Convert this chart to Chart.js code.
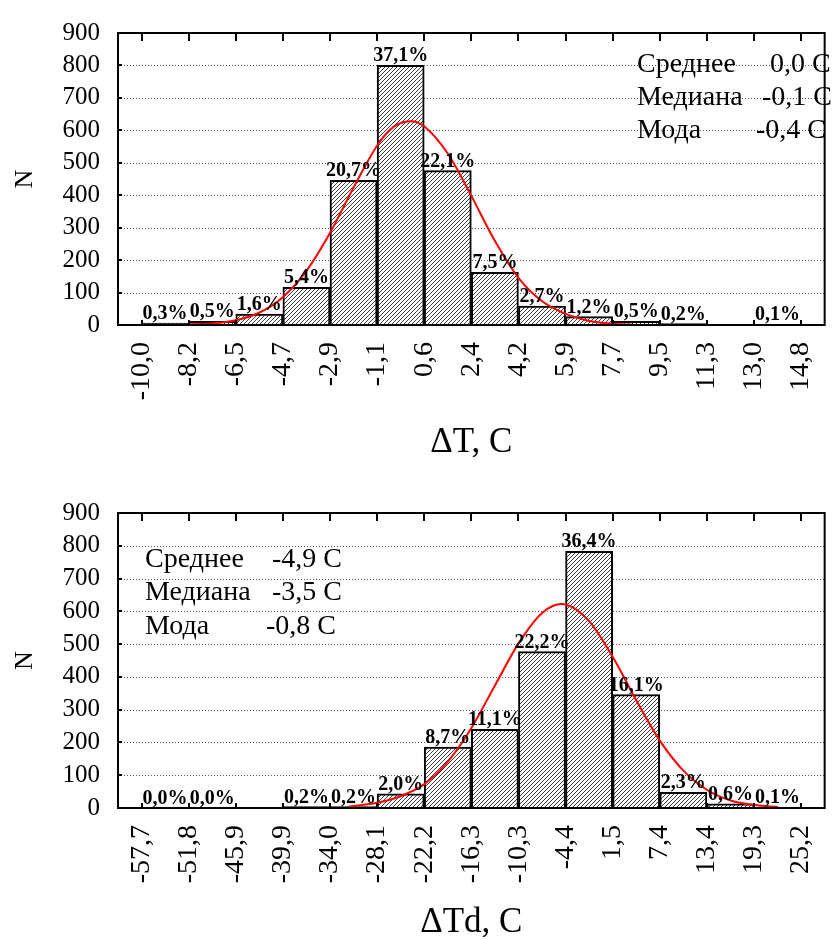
<!DOCTYPE html>
<html><head><meta charset="utf-8">
<script src="https://cdn.jsdelivr.net/npm/chart.js@4.4.1/dist/chart.umd.min.js"></script>
<style>
html,body{margin:0;padding:0;background:#fff;overflow:hidden;width:834px;height:940px;}
.wrap{position:absolute;left:0;width:852px;}
#w1{top:0;height:470px;}
#w2{top:460px;height:480px;}
canvas{display:block;}
</style></head><body>
<div class="wrap" id="w1"><canvas id="c1" width="852" height="470"></canvas></div>
<div class="wrap" id="w2"><canvas id="c2" width="852" height="480"></canvas></div>
<script>
// ---------- Top histogram: ΔT ----------
const dtEdgeLabels = ['-10,0','-8,2','-6,5','-4,7','-2,9','-1,1','0,6','2,4','4,2','5,9','7,7','9,5','11,3','13,0','14,8'];
const dtCounts = [6, 11, 34, 116, 446, 800, 476, 162, 58, 26, 11, 4, 0, 2];
const dtPercents = ['0,3%','0,5%','1,6%','5,4%','20,7%','37,1%','22,1%','7,5%','2,7%','1,2%','0,5%','0,2%','','0,1%'];
const dtCurveX = [-8.2, -7.35, -6.5, -5.6, -4.7, -3.8, -2.9, -2.0, -1.1, -0.5, 0.15, 0.6, 1.5, 2.4, 3.3, 4.2, 5.05, 5.9, 6.8, 7.7, 8.6];
const dtCurveY = [2, 5, 14, 37, 85, 167, 286, 428, 558, 612, 628, 614, 530, 398, 257, 142, 74, 36, 13, 4, 1];
const dtStatNames = ['Среднее','Медиана','Мода'];
const dtStatValues = ['0,0 С','-0,1 С','-0,4 С'];

// ---------- Bottom histogram: ΔTd ----------
const dtdEdgeLabels = ['-57,7','-51,8','-45,9','-39,9','-34,0','-28,1','-22,2','-16,3','-10,3','-4,4','1,5','7,4','13,4','19,3','25,2'];
const dtdCounts = [1, 1, 0, 4, 4, 43, 186, 240, 477, 783, 346, 48, 13, 2];
const dtdPercents = ['0,0%','0,0%','','0,2%','0,2%','2,0%','8,7%','11,1%','22,2%','36,4%','16,1%','2,3%','0,6%','0,1%'];
const dtdCurveX = [-31.7, -28.1, -25.15, -22.2, -19.25, -16.3, -13.3, -10.3, -7.35, -4.9, -4.4, -1.45, 1.5, 4.45, 7.4, 10.4, 13.4, 16.35, 19.3, 22.3];
const dtdCurveY = [4, 16, 36, 72, 140, 242, 373, 503, 595, 622, 621, 570, 462, 330, 207, 114, 55, 23, 9, 3];
const dtdStatNames = ['Среднее','Медиана','Мода'];
const dtdStatValues = ['-4,9 С','-3,5 С','-0,8 С'];

const yTickMax = 900, yTickStep = 100;

const FONT = "'Liberation Serif','Times New Roman',serif";

function makeHatch(){
  const c = document.createElement('canvas'); c.width = 4; c.height = 4;
  const g = c.getContext('2d');
  g.fillStyle = '#fff'; g.fillRect(0,0,4,4);
  g.strokeStyle = '#2a2a2a'; g.lineWidth = 0.9;
  g.beginPath();
  g.moveTo(-1,5); g.lineTo(5,-1);
  g.moveTo(-1,1); g.lineTo(1,-1);
  g.moveTo(3,5); g.lineTo(5,3);
  g.stroke();
  return g.createPattern(c,'repeat');
}

function toNum(s){ return parseFloat(s.replace(',','.')); }

function makeHist(canvasId, cfg){
  const n = cfg.counts.length;
  const lo = toNum(cfg.edges[0]), hi = toNum(cfg.edges[n]);
  const bars = cfg.counts.map((v,i)=>({x:i+0.5, y:v}));
  const curve = cfg.curveX.map((x,i)=>({x:(x-lo)/(hi-lo)*n, y:cfg.curveY[i]}));

  const deco = {
    id:'deco'+canvasId,
    beforeDatasetsDraw(chart){
      const {ctx, chartArea:a, scales:{y}} = chart;
      ctx.save();
      ctx.strokeStyle = '#555'; ctx.lineWidth = 1; ctx.setLineDash([1,2]);
      for(let v = yTickStep; v < yTickMax; v += yTickStep){
        const py = Math.round(y.getPixelForValue(v)) + 0.5;
        ctx.beginPath(); ctx.moveTo(a.left, py); ctx.lineTo(a.right, py); ctx.stroke();
      }
      ctx.restore();
    },
    afterDatasetsDraw(chart){
      const {ctx, chartArea:a, scales:{x,y}} = chart;
      ctx.save();
      // percent labels
      ctx.fillStyle = '#000';
      ctx.font = 'bold 20px ' + FONT;
      ctx.textAlign = 'center'; ctx.textBaseline = 'alphabetic';
      cfg.percents.forEach((t,i)=>{
        if(!t) return;
        ctx.fillText(t, x.getPixelForValue(i+0.5), y.getPixelForValue(cfg.counts[i]) - 4);
      });
      // frame
      ctx.strokeStyle = '#000'; ctx.lineWidth = 2;
      ctx.strokeRect(a.left, a.top, a.right - a.left, a.bottom - a.top);
      // inward ticks
      ctx.lineWidth = 2;
      x.ticks.forEach(t=>{
        const px = Math.round(x.getPixelForValue(t.value));
        ctx.beginPath(); ctx.moveTo(px, a.top); ctx.lineTo(px, a.top + 8); ctx.stroke();
        ctx.beginPath(); ctx.moveTo(px, a.bottom); ctx.lineTo(px, a.bottom - 5); ctx.stroke();
      });
      for(let v = yTickStep; v < yTickMax; v += yTickStep){
        const py = Math.round(y.getPixelForValue(v));
        ctx.beginPath(); ctx.moveTo(a.left, py); ctx.lineTo(a.left + 4, py); ctx.stroke();
      }
      // statistics text
      ctx.font = '28px ' + FONT;
      ctx.textAlign = 'left';
      cfg.statNames.forEach((s,i)=>{
        ctx.fillText(s, cfg.statPos.nameX, cfg.statPos.baseY[i]);
        ctx.fillText(cfg.statValues[i], cfg.statPos.valX[i], cfg.statPos.baseY[i]);
      });
      ctx.restore();
    }
  };

  return new Chart(document.getElementById(canvasId), {
    type:'bar',
    data:{datasets:[
      {type:'line', data:curve, borderColor:'#ff0000', borderWidth:2, pointRadius:0, tension:0.4,
       cubicInterpolationMode:'monotone', fill:false, order:0},
      {type:'bar', data:bars, backgroundColor:makeHatch(), borderColor:'#000', borderWidth:2,
       barPercentage:1, categoryPercentage:1, borderSkipped:'bottom', order:1}
    ]},
    options:{
      responsive:false, animation:false, devicePixelRatio:1,
      layout:{padding:{top:cfg.padTop, right:9, left:0, bottom:0}},
      plugins:{legend:{display:false}, tooltip:{enabled:false}},
      scales:{
        x:{type:'linear', min:-0.5, max:n+0.5, offset:false,
           afterBuildTicks:(s)=>{ s.ticks = cfg.edges.map((_,i)=>({value:i})); },
           ticks:{autoSkip:false, minRotation:90, maxRotation:90, padding:17, color:'#000',
                  font:{family:FONT, size:28}, callback:(v,i)=>cfg.edges[i]},
           grid:{display:false, drawTicks:false}, border:{display:false},
           title:{display:true, text:cfg.title, color:'#000', font:{family:FONT, size:35, lineHeight:1},
                  padding:{top:0, bottom:cfg.titlePad}},
           afterFit:(s)=>{ s.height = cfg.xAxisH; }},
        y:{min:0, max:yTickMax,
           ticks:{stepSize:yTickStep, autoSkip:false, padding:18, color:'#000', font:{family:FONT, size:25}},
           grid:{display:false, drawTicks:false}, border:{display:false},
           title:{display:true, text:'N', color:'#000', font:{family:FONT, size:26, lineHeight:1},
                  padding:{top:12, bottom:0}},
           afterFit:(s)=>{ s.width = 118; }}
      }
    },
    plugins:[deco]
  });
}

makeHist('c1', {
  edges:dtEdgeLabels, counts:dtCounts, percents:dtPercents, curveX:dtCurveX, curveY:dtCurveY,
  statNames:dtStatNames, statValues:dtStatValues,
  statPos:{nameX:637, valX:[770,762,756], baseY:[72,105,138]},
  title:'ΔT, C', padTop:15, xAxisH:145, titlePad:10
});
makeHist('c2', {
  edges:dtdEdgeLabels, counts:dtdCounts, percents:dtdPercents, curveX:dtdCurveX, curveY:dtdCurveY,
  statNames:dtdStatNames, statValues:dtdStatValues,
  statPos:{nameX:145, valX:[272,272,266], baseY:[107,140,174]},
  title:'ΔTd, C', padTop:53, xAxisH:132, titlePad:0
});
</script>
</body></html>
